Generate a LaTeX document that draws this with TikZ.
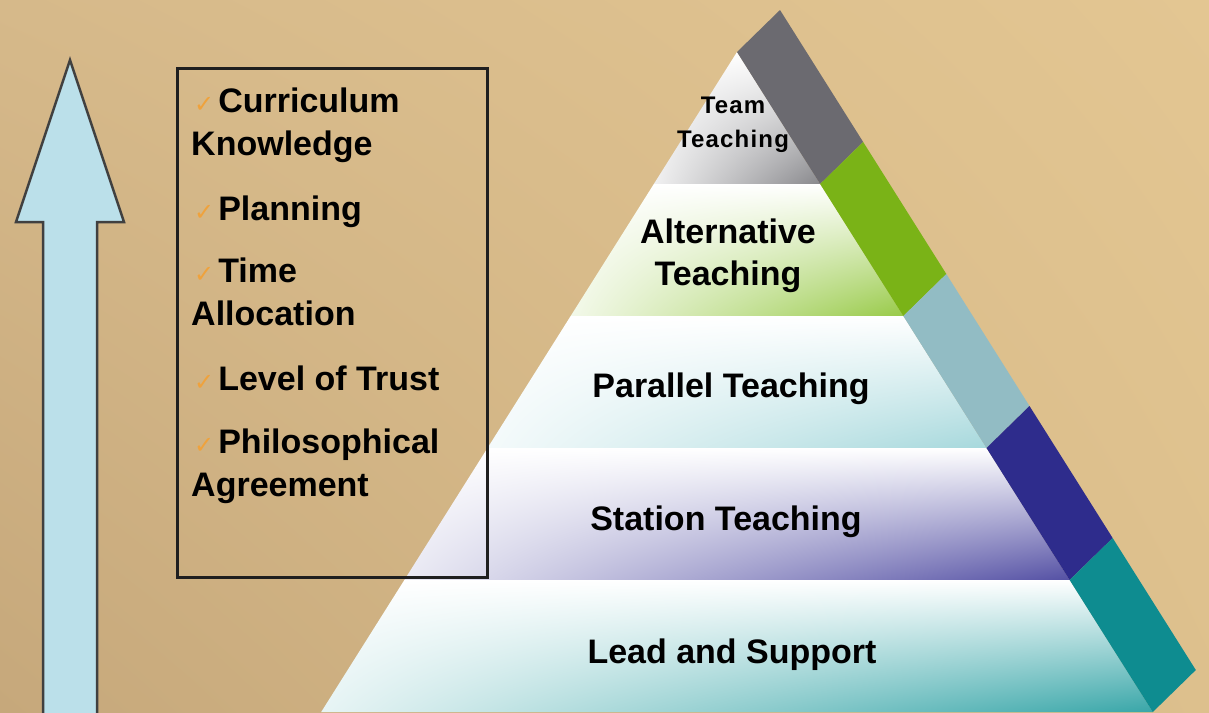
\documentclass[tikz,border=0pt]{standalone}
\usepackage{fontspec}
\setmainfont{Liberation Sans}
\newfontfamily\symfont{DejaVu Sans}
\usetikzlibrary{shadings, calc}
\definecolor{sandUL}{HTML}{D6B98A}
\definecolor{sandUR}{HTML}{E3C692}
\definecolor{sandLL}{HTML}{C6A87B}
\definecolor{sandLR}{HTML}{DDC08D}
\definecolor{arrowblue}{HTML}{BBE0EA}
\definecolor{tickorange}{HTML}{EFA23C}
\definecolor{bandgrey}{HTML}{6B6A70}
\definecolor{bandgreen}{HTML}{7AB317}
\definecolor{bandsky}{HTML}{92BCC4}
\definecolor{bandnavy}{HTML}{2E2C8C}
\definecolor{bandteal}{HTML}{0E8C90}
\definecolor{tonegrey}{HTML}{88888C}
\definecolor{tonegreen}{HTML}{98CA48}
\definecolor{tonesky}{HTML}{A6D8DC}
\definecolor{tonenavy}{HTML}{5450A4}
\definecolor{toneteal}{HTML}{38A6A8}
\newcommand{\chkmark}{\hspace*{3pt}{\symfont\fontsize{24}{24}\selectfont\color{tickorange}✓}\hspace{4pt}}
\tikzset{
  itemtext/.style={font=\bfseries\fontsize{34}{43}\selectfont, align=left,
                   anchor=base west, inner sep=0pt},
  tiertext/.style={font=\bfseries\fontsize{34}{42}\selectfont, align=center,
                   anchor=base, inner sep=0pt},
  listbox/.style={draw=black!88, line width=3pt},
  uparrow/.style={fill=arrowblue, draw=black!75, line width=2.5pt, line join=miter},
}

\begin{document}
\begin{tikzpicture}[x=1pt, y=-1pt]
  \useasboundingbox (0,0) rectangle (1209,712);
  \shade[upper left=sandUL, upper right=sandUR, lower left=sandLL, lower right=sandLR]
    (0,0) rectangle (1209,712);

  % pyramid tiers and side band
  \foreach \k/\tone/\band in {0/tonegrey/bandgrey, 1/tonegreen/bandgreen,
      2/tonesky/bandsky, 3/tonenavy/bandnavy, 4/toneteal/bandteal} {
    \pgfmathsetmacro{\ytop}{52+132*\k}
    \pgfmathsetmacro{\ybot}{\ytop+132}
    \pgfmathsetmacro{\dtop}{0.63*(\ytop-52)}
    \pgfmathsetmacro{\dbot}{0.63*(\ybot-52)}
    \shade[upper left=white, upper right=white, lower left=\tone!12, lower right=\tone]
      (737-\dtop,\ytop) -- (737+\dtop,\ytop) -- (737+\dbot,\ybot) -- (737-\dbot,\ybot) -- cycle;
    \fill[\band] (737+\dtop,\ytop) -- (737+\dbot,\ybot) -- (780+\dbot,\ybot-42)
      -- (780+\dtop,\ytop-42) -- cycle;
  }

  \node[tiertext, font=\bfseries\fontsize{24}{34}\selectfont\addfontfeature{LetterSpace=5}]
    (team) at (733,147) {Team\\Teaching};
  \node[tiertext] (alternative) at (728,285) {Alternative\\Teaching};
  \node[tiertext] (parallel) at (731,397) {Parallel Teaching};
  \node[tiertext] (station) at (726,530) {Station Teaching};
  \node[tiertext] (lead) at (732,663) {Lead and Support};

  % growth arrow
  \draw[uparrow] (70,60) -- (124,222) -- (97,222) -- (97,722) -- (43,722)
    -- (43,222) -- (16,222) -- cycle;

  % checklist
  \draw[listbox] (177,68) rectangle (487,577);
  \node[itemtext] (curriculum) at (191,155) {\chkmark Curriculum\\Knowledge};
  \node[itemtext] (planning) at (191,220) {\chkmark Planning};
  \node[itemtext] (timealloc) at (191,325) {\chkmark Time\\Allocation};
  \node[itemtext] (trust) at (191,390) {\chkmark Level of Trust};
  \node[itemtext] (philosophy) at (191,496) {\chkmark Philosophical\\Agreement};
\end{tikzpicture}
\end{document}
